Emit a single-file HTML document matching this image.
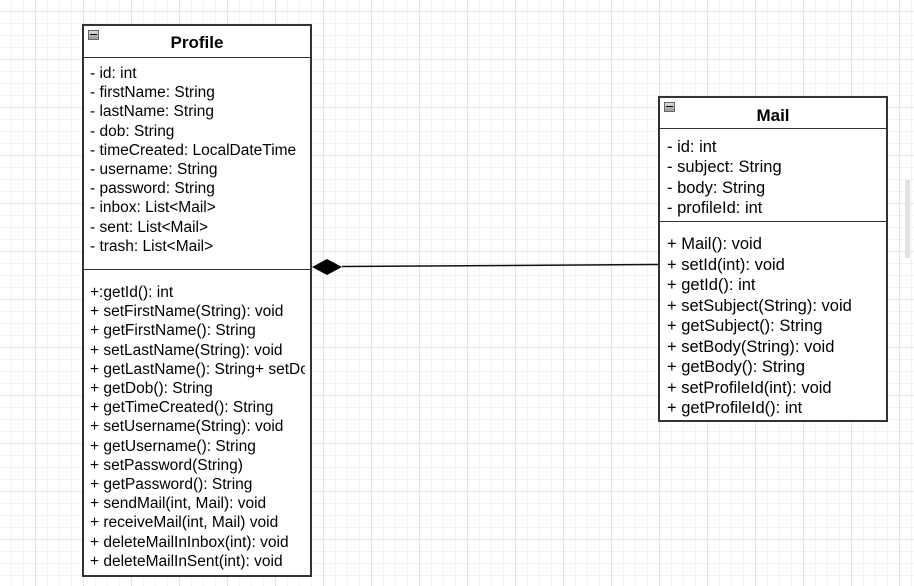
<!DOCTYPE html>
<html><head><meta charset="utf-8"><style>
html,body{margin:0;padding:0}
body{width:914px;height:586px;position:relative;overflow:hidden;background:#fff;
font-family:"Liberation Sans",Arial,sans-serif;color:#000;
background-image:linear-gradient(#e4e4e4 1px,transparent 1px),linear-gradient(90deg,#e4e4e4 1px,transparent 1px),linear-gradient(#f2f2f2 1px,transparent 1px),linear-gradient(90deg,#f2f2f2 1px,transparent 1px);
background-size:48px 48px,48px 48px,12px 12px,12px 12px;background-position:-1px 11px,-13px 0,-1px -1px,-1px -1px}
.box{position:absolute;background:#fff;border:2px solid #333;box-sizing:border-box}
.hd{position:absolute;left:0;right:0;border-bottom:1px solid #333;font-weight:bold;text-align:center;font-size:17px}
.sep{position:absolute;left:0;right:0;border-top:1px solid #333}
.t{position:absolute;white-space:nowrap;line-height:19px;overflow:hidden}
.ic{position:absolute;left:4px;top:4px;width:11px;height:10px;background:linear-gradient(#ddd,#999);border:1px solid #666;box-sizing:border-box}
.ic:after{content:"";position:absolute;left:1px;right:1px;top:3px;height:1px;background:#000}
</style></head><body>
<div class="box" style="left:82px;top:24px;width:230px;height:553px">
<div class="ic"></div>
<div class="hd" style="top:0;height:31px;line-height:34px">Profile</div>
<div class="t" style="left:6px;top:38px;width:215px;font-size:15.5px;line-height:19.2px">- id: int<br>- firstName: String<br>- lastName: String<br>- dob: String<br>- timeCreated: LocalDateTime<br>- username: String<br>- password: String<br>- inbox: List&lt;Mail&gt;<br>- sent: List&lt;Mail&gt;<br>- trash: List&lt;Mail&gt;</div>
<div class="sep" style="top:243px"></div>
<div class="t" style="left:6px;top:257px;width:215px;font-size:15.5px;line-height:19.2px">+:getId(): int<br>+ setFirstName(String): void<br>+ getFirstName(): String<br>+ setLastName(String): void<br>+ getLastName(): String+ setDob<br>+ getDob(): String<br>+ getTimeCreated(): String<br>+ setUsername(String): void<br>+ getUsername(): String<br>+ setPassword(String)<br>+ getPassword(): String<br>+ sendMail(int, Mail): void<br>+ receiveMail(int, Mail) void<br>+ deleteMailInInbox(int): void<br>+ deleteMailInSent(int): void</div>
</div>
<div class="box" style="left:658px;top:96px;width:230px;height:326px">
<div class="ic"></div>
<div class="hd" style="top:0;height:30px;line-height:35px">Mail</div>
<div class="t" style="left:7px;top:39px;font-size:16.5px;line-height:20.3px">- id: int<br>- subject: String<br>- body: String<br>- profileId: int</div>
<div class="sep" style="top:123px"></div>
<div class="t" style="left:7px;top:136px;font-size:16.5px;line-height:20.5px">+ Mail(): void<br>+ setId(int): void<br>+ getId(): int<br>+ setSubject(String): void<br>+ getSubject(): String<br>+ setBody(String): void<br>+ getBody(): String<br>+ setProfileId(int): void<br>+ getProfileId(): int</div>
</div>
<svg style="position:absolute;left:0;top:0" width="914" height="586">
<line x1="342" y1="266.5" x2="658" y2="264.5" stroke="#111" stroke-width="1.5"/>
<polygon points="312,267 327,259 342,267 327,275" fill="#000"/>
<rect x="905" y="180" width="5" height="78" rx="2" fill="#e2e2e2"/>
</svg>
</body></html>
